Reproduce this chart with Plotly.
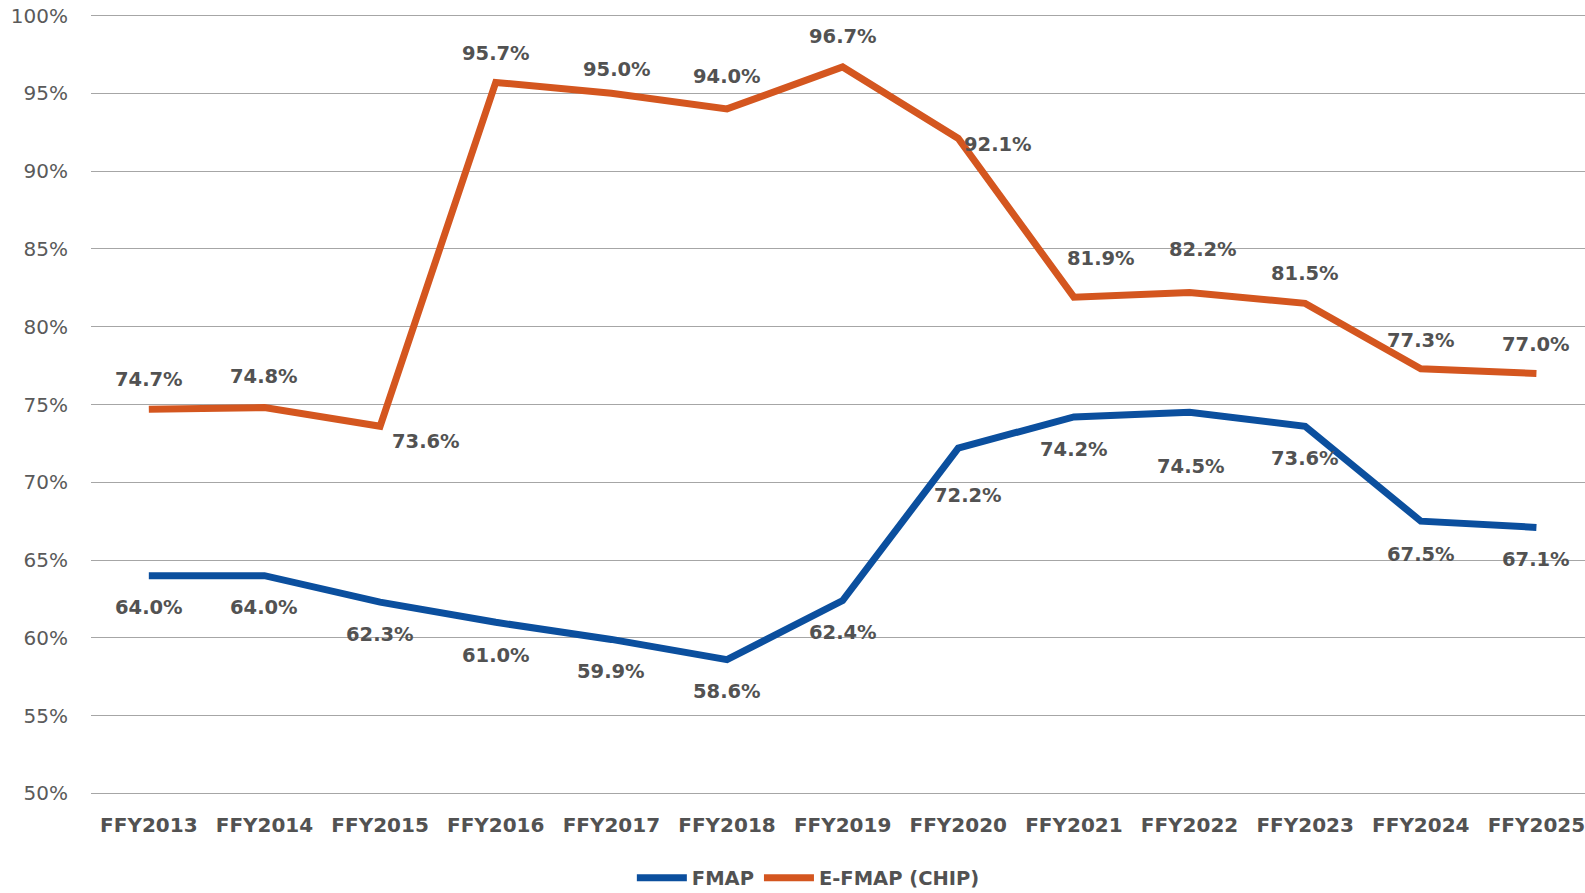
import plotly.graph_objects as go

categories = ["FFY2013", "FFY2014", "FFY2015", "FFY2016", "FFY2017", "FFY2018", "FFY2019",
              "FFY2020", "FFY2021", "FFY2022", "FFY2023", "FFY2024", "FFY2025"]
fmap = [64.0, 64.0, 62.3, 61.0, 59.9, 58.6, 62.4, 72.2, 74.2, 74.5, 73.6, 67.5, 67.1]
efmap = [74.7, 74.8, 73.6, 95.7, 95.0, 94.0, 96.7, 92.1, 81.9, 82.2, 81.5, 77.3, 77.0]

y_ticks = [50, 55, 60, 65, 70, 75, 80, 85, 90, 95, 100]
y_tick_labels = ["50%", "55%", "60%", "65%", "70%", "75%", "80%", "85%", "90%", "95%", "100%"]

# label offsets (pixels): (xshift, yshift)
fmap_label_shift = [(0, -32), (0, -32), (0, -32), (0, -33), (0, -32), (0, -32), (0, -32),
                    (10, -47), (0, -33), (1, -54), (0, -32), (0, -33), (0, -32)]
efmap_label_shift = [(0, 30), (0, 31), (46, -15), (0, 29), (6, 24), (0, 32), (0, 30),
                     (40, -6), (27, 39), (13, 43), (0, 30), (0, 28), (0, 29)]

BLUE = "#0B4F9E"
ORANGE = "#D4561F"
TEXT = "#525252"
LABEL_FONT = dict(family="DejaVu Sans", size=19.5, color=TEXT, weight="bold")

fig = go.Figure()
fig.add_trace(go.Scatter(x=categories, y=fmap, mode="lines", name="FMAP",
                         line=dict(color=BLUE, width=7)))
fig.add_trace(go.Scatter(x=categories, y=efmap, mode="lines", name="E-FMAP (CHIP)",
                         line=dict(color=ORANGE, width=7)))

for series, shifts in ((fmap, fmap_label_shift), (efmap, efmap_label_shift)):
    for c, v, (dx, dy) in zip(categories, series, shifts):
        fig.add_annotation(x=c, y=v, text=f"{v:.1f}%", showarrow=False,
                           xshift=dx, yshift=dy, font=LABEL_FONT,
                           xanchor="center", yanchor="middle")

fig.update_layout(
    width=1585, height=893,
    margin=dict(l=91, r=0, t=14.4, b=98.4, autoexpand=False),
    paper_bgcolor="white", plot_bgcolor="white",
    showlegend=True,
    legend=dict(orientation="h", xref="container", yref="container",
                x=0.51, xanchor="center", y=1 - 878 / 893, yanchor="middle",
                font=dict(family="DejaVu Sans", size=19.5, color=TEXT, weight="bold"),
                itemwidth=50, tracegroupgap=0),
)
fig.update_xaxes(type="category", range=[-0.5, 12.42], showgrid=False, showline=False,
                 zeroline=False, ticks="", ticklabelstandoff=16, automargin=False,
                 tickfont=dict(family="DejaVu Sans", size=20, color=TEXT, weight="bold"))
fig.update_yaxes(range=[49.9, 100.1], tickvals=y_ticks, ticktext=y_tick_labels,
                 showgrid=True, gridcolor="#A6A6A6", gridwidth=1.2, zeroline=False,
                 showline=False, ticks="", ticklabelstandoff=22, automargin=False,
                 tickfont=dict(family="DejaVu Sans", size=20, color="#5A5A5A"))

post = ("document.body.style.margin='0';document.body.style.overflow='hidden';"
        "var gd=document.getElementById('{plot_id}');"
        "Plotly.relayout(gd,{width:1585,height:893});")
fig.write_html("out.html", config={"responsive": False, "displayModeBar": False},
               post_script=post)
